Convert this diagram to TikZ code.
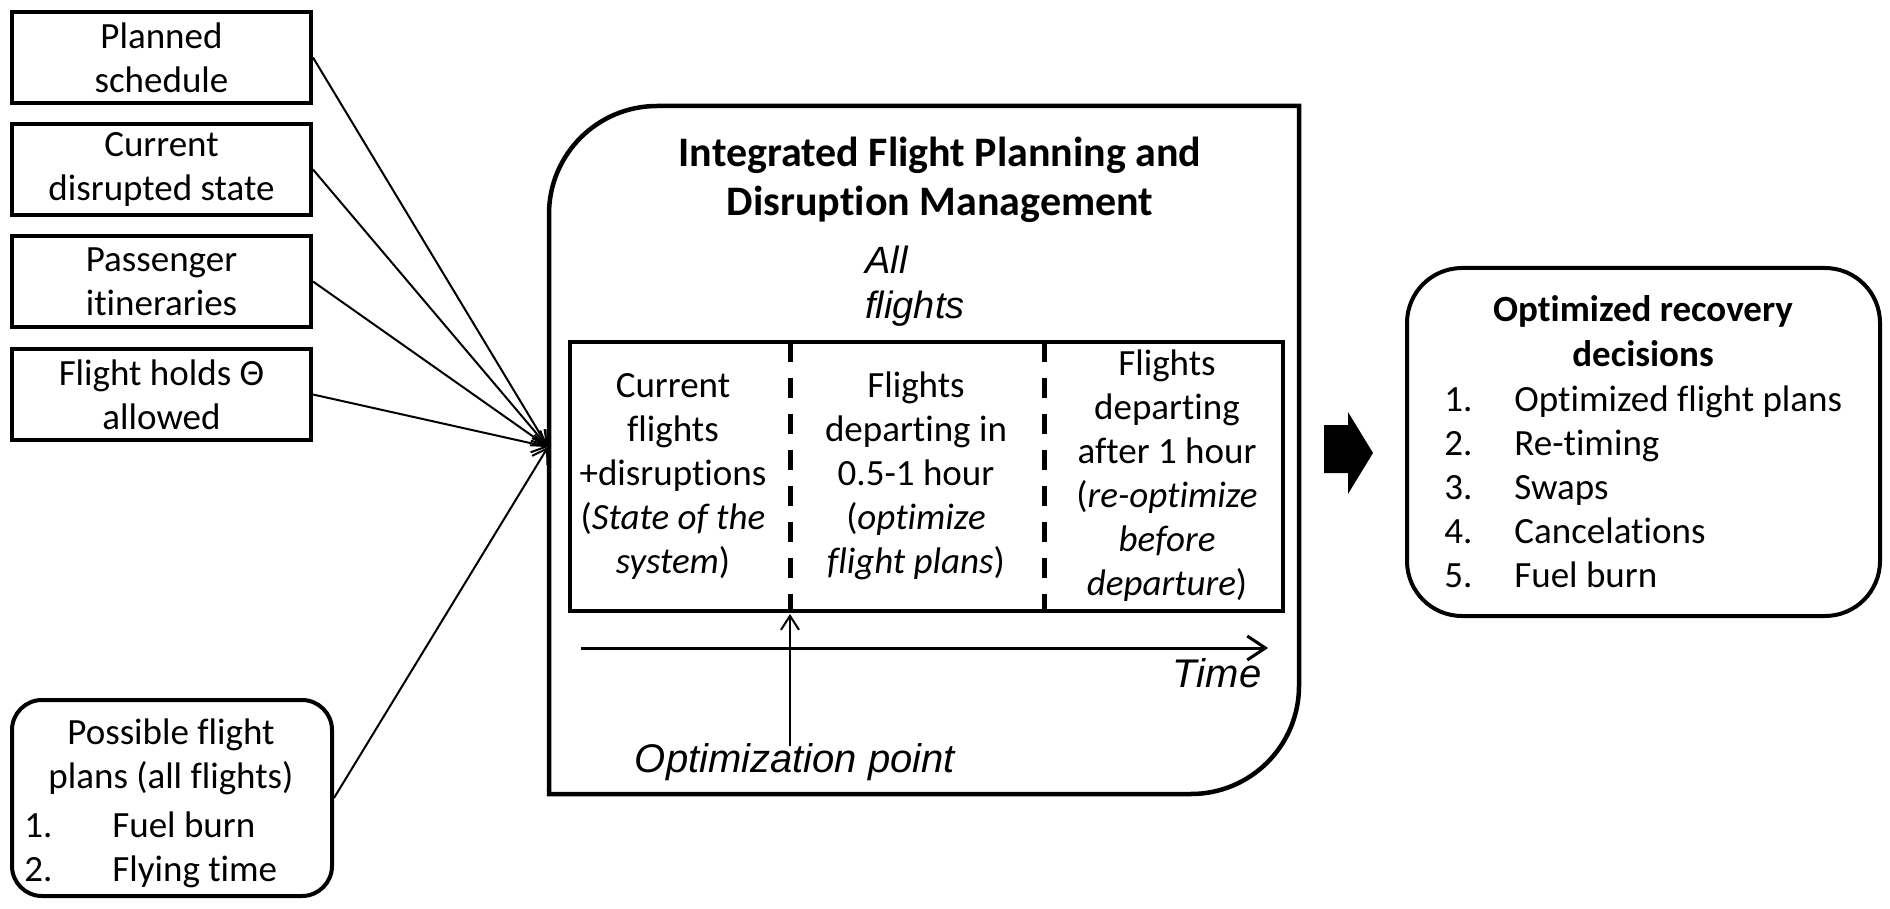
\documentclass[tikz,border=0pt]{standalone}
\usepackage{fontspec}
\setmainfont{Carlito}[Ligatures={TeX,NoCommon}]
\newfontfamily\arialf{Liberation Sans}[Ligatures={TeX,NoCommon}]
\usetikzlibrary{arrows.meta}
\begin{document}
\begin{tikzpicture}[x=0.5pt,y=-0.5pt,
  body/.style={font=\fontsize{18.5}{22}\selectfont},
  inbox/.style={draw,line width=2pt,inner sep=0pt,align=center,body,
    minimum width=149.5pt,minimum height=45.5pt},
  txt/.style={inner sep=0pt,align=center,body},
  ital/.style={inner sep=0pt,font=\arialf\itshape\fontsize{20}{22.5}\selectfont},
  inarrow/.style={line width=1pt,-{Straight Barb[length=7pt,width=9pt]}},
  dashline/.style={line width=2.5pt,dash pattern=on 10pt off 8pt},
]
\useasboundingbox (0,0) rectangle (1890,909);

% input boxes
\node[inbox] (b1) at (161.5,57.5) {Planned\\schedule};
\node[inbox] (b2) at (161.5,169.5) {Current\\disrupted state};
\node[inbox] (b3) at (161.5,281.5) {Passenger\\itineraries};
\node[inbox] (b4) at (161.5,394.5) {Flight holds Θ\\allowed};
\node[draw,line width=2pt,rounded corners=15pt,inner sep=0pt,
      minimum width=160pt,minimum height=98pt] (b5) at (172,798) {};
\node[txt] (b5t) at (171,757) {Possible flight\\plans (all flights)};
\node[txt,anchor=west,align=left] (b5l) at (24,850)
  {\makebox[44pt][l]{1.}Fuel burn\\\makebox[44pt][l]{2.}Flying time};

% main box
\draw[line width=2.25pt] (549,794) -- (549,214) arc[start angle=180,end angle=270,radius=108]
  -- (1299,106) -- (1299,686) arc[start angle=0,end angle=90,radius=108] -- cycle;
\coordinate (conv) at (548,447);

\node[font=\bfseries\fontsize{21}{24.5}\selectfont,align=center,inner sep=0pt] (title) at (940,180)
  {Integrated Flight Planning and\\Disruption Management};
\node[ital,font=\arialf\itshape\fontsize{19}{22.5}\selectfont,align=left,anchor=west] (allf) at (865,286) {All\\flights};

\node[draw,line width=2pt,inner sep=0pt,minimum width=356.5pt,minimum height=134.5pt] (grid) at (926.5,476.5) {};
\draw[dashline] (790,342) -- (790,611);
\draw[dashline] (1044,342) -- (1044,611);

\node[txt] (c1) at (673,476) {Current\\flights\\+disruptions\\(\textit{State of the}\\\textit{system})};
\node[txt] (c2) at (916,476) {Flights\\departing in\\0.5-1 hour\\(\textit{optimize}\\\textit{flight plans})};
\node[txt] (c3) at (1167,476) {Flights\\departing\\after 1 hour\\(\textit{re-optimize}\\\textit{before}\\\textit{departure})};

\coordinate (t0) at (581,648);
\coordinate (t1) at (1268,648);
\draw[line width=1.5pt,-{Straight Barb[length=9pt,width=12pt]}] (t0) -- (t1);
\node[ital] (time) at (1217,673) {Time};

\node[ital] (opt) at (795,762) {Optimization point};
\coordinate (optpt) at (790,614);
\coordinate (opttail) at (790,746);
\draw[line width=1pt,-{Straight Barb[length=7pt,width=9pt]}] (opttail) -- (optpt);

% inputs
\draw[inarrow] (b1.east) -- (conv);
\draw[inarrow] (b2.east) -- (conv);
\draw[inarrow] (b3.east) -- (conv);
\draw[inarrow] (b4.east) -- (conv);
\draw[inarrow] (b5.east) -- (conv);

% block arrow
\fill (1324,425) -- (1348,425) -- (1348,412) -- (1373,453) -- (1348,494) -- (1348,473) -- (1324,473) -- cycle;

% output box
\node[draw,line width=2pt,rounded corners=27.5pt,inner sep=0pt,
      minimum width=236.5pt,minimum height=174pt] (out) at (1643.5,442) {};
\node[txt,font=\bfseries\fontsize{18.5}{22.5}\selectfont] (outt) at (1643,331) {Optimized recovery\\decisions};
\node[txt,anchor=west,align=left] (outl) at (1444,487)
  {\makebox[35pt][l]{1.}Optimized flight plans\\\makebox[35pt][l]{2.}Re-timing\\\makebox[35pt][l]{3.}Swaps\\\makebox[35pt][l]{4.}Cancelations\\\makebox[35pt][l]{5.}Fuel burn};
\end{tikzpicture}
\end{document}
